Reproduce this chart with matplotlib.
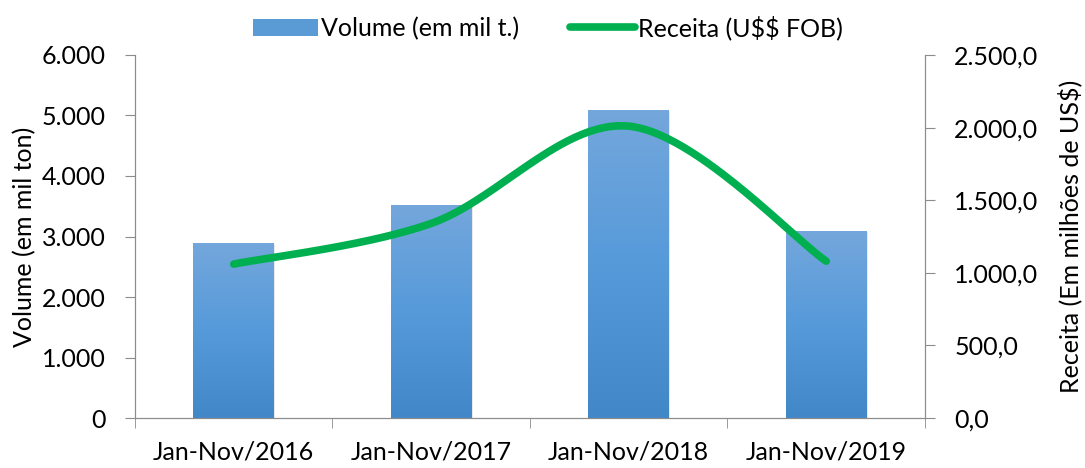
import matplotlib
matplotlib.use("Agg")
import matplotlib.pyplot as plt
import numpy as np
from matplotlib.patches import Patch
from matplotlib.lines import Line2D
from matplotlib.colors import LinearSegmentedColormap

plt.rcParams['font.family'] = ['Lato', 'DejaVu Sans']
plt.rcParams['text.parse_math'] = False

categorias = ["Jan-Nov/2016", "Jan-Nov/2017", "Jan-Nov/2018", "Jan-Nov/2019"]
volume = [2900, 3520, 5090, 3090]        # mil t
receita = [1060, 1340, 2010, 1080]       # milhões US$

def fmt_milhar(v, pos=None):
    return f"{v:,.0f}".replace(",", ".")

def fmt_dec(v, pos=None):
    s = f"{v:,.1f}"
    return s.replace(",", "X").replace(".", ",").replace("X", ".")

# Excel-like smoothed line (Catmull-Rom bezier)
def suavizar(x, y, sx, sy, n=60):
    p = np.column_stack([np.asarray(x, float) * sx, np.asarray(y, float) * sy])
    pts = []
    for i in range(len(p) - 1):
        p0 = p[i - 1] if i > 0 else p[i]
        p1, p2 = p[i], p[i + 1]
        p3 = p[i + 2] if i + 2 < len(p) else p[i + 1]
        c1 = p1 + (p2 - p0) / 6
        c2 = p2 - (p3 - p1) / 6
        t = np.linspace(0, 1, n)[:, None]
        seg = (1 - t) ** 3 * p1 + 3 * (1 - t) ** 2 * t * c1 + 3 * (1 - t) * t ** 2 * c2 + t ** 3 * p2
        pts.append(seg if i == 0 else seg[1:])
    pts = np.vstack(pts)
    return pts[:, 0] / sx, pts[:, 1] / sy

fig = plt.figure(figsize=(10.85, 4.68), dpi=100)
ax = fig.add_axes([0.1244, 0.1068, 0.7281, 0.7757])
ax2 = ax.twinx()

x = np.arange(len(categorias))
largura = 0.41
cmap = LinearSegmentedColormap.from_list("azul", ["#4287C8", "#569ADA", "#74A7DC"])
grad = np.linspace(0, 1, 256).reshape(-1, 1)

barras = ax.bar(x, volume, width=largura, color="none", zorder=2)
for b in barras:
    x0, w, h = b.get_x(), b.get_width(), b.get_height()
    # sombra
    ax.bar(x0 + w / 2 + 0.005, h, width=w, bottom=-20, color="#c0c0c0", alpha=0.35, zorder=1.5)
    im = ax.imshow(grad, cmap=cmap, aspect="auto", origin="lower",
                   extent=[x0, x0 + w, 0, h], zorder=2)
    im.set_clip_path(b)

ax.set_xlim(-0.5, 3.5)
ax.set_ylim(0, 6000)
ax.set_yticks(range(0, 6001, 1000))
ax.yaxis.set_major_formatter(plt.FuncFormatter(fmt_milhar))
ax.set_xticks(x)
ax.set_xticklabels(categorias)
ax.set_xticks(np.arange(-0.5, 4, 1), minor=True)
ax.tick_params(axis="x", which="major", length=0, labelsize=18, pad=16)
ax.tick_params(axis="x", which="minor", length=7, color="#8c8c8c")
ax.tick_params(axis="y", length=7, color="#8c8c8c", labelsize=18, pad=14)
ax.set_ylabel("Volume (em mil ton)", fontsize=18, labelpad=4)

ax2.set_ylim(0, 2500)
ax2.set_yticks(range(0, 2501, 500))
ax2.yaxis.set_major_formatter(plt.FuncFormatter(fmt_dec))
ax2.tick_params(axis="y", length=7, color="#8c8c8c", labelsize=18, pad=14)
ax2.set_ylabel("Receita (Em milhões de US$)", fontsize=18, labelpad=14)

for a in (ax, ax2):
    a.spines["top"].set_visible(False)
    for s in ("left", "right", "bottom"):
        a.spines[s].set_color("#8c8c8c")

sx, sy = 197.5, 0.1452
lx, ly = suavizar(x, receita, sx, sy)
ax2.plot(lx, ly, color="#00B050", lw=5.5, solid_capstyle="round", zorder=3)

handles = [Patch(facecolor="#5B9BD5", edgecolor="none"),
           Line2D([], [], color="#00B050", lw=5.5, solid_capstyle="round")]
fig.legend(handles, ["Volume (em mil t.)", "Receita (U$$ FOB)"], loc="upper center",
           bbox_to_anchor=(0.505, 1.015), ncol=2, frameon=False, fontsize=18,
           handlelength=2.6, handletextpad=0.15, columnspacing=2.0)

fig.savefig("out.png", dpi=100)
